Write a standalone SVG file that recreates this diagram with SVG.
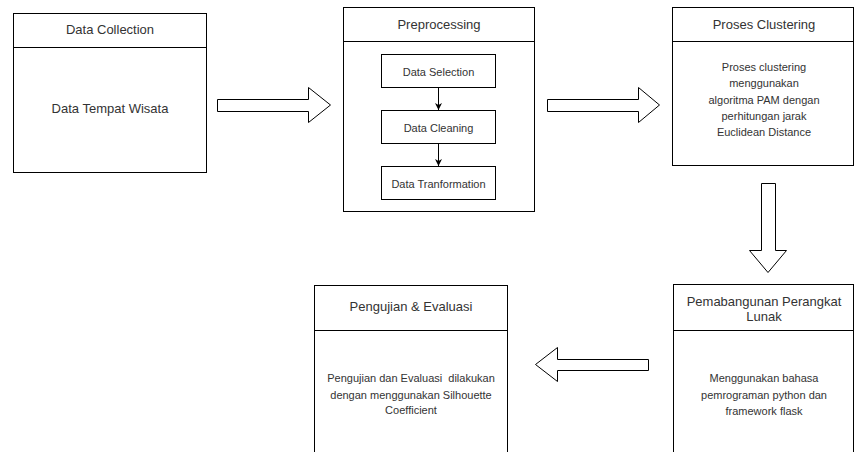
<svg xmlns="http://www.w3.org/2000/svg" width="855" height="452" viewBox="0 0 855 452">
<style>
.box{fill:#fff;stroke:#000;stroke-width:1}
.ln{stroke:#000;stroke-width:1;fill:none}
.big{fill:#fff;stroke:#000;stroke-width:1}
.t{font-family:"Liberation Sans",Arial,sans-serif;font-size:13px;fill:#333;text-anchor:middle}
.s{font-family:"Liberation Sans",Arial,sans-serif;font-size:11px;fill:#333;text-anchor:middle}
</style>
<defs>
<marker id="ah" viewBox="0 0 10 10" refX="10" refY="5" markerWidth="7" markerHeight="7" markerUnits="userSpaceOnUse" orient="auto">
<path d="M0,0 L10,5 L0,10 L3,5 Z" fill="#000"/>
</marker>
</defs>
<rect width="855" height="452" fill="#fff"/>
<g id="data-collection">
<rect class="box" x="13.5" y="13.5" width="193" height="159"/>
<line class="ln" x1="13.5" y1="47.5" x2="206.5" y2="47.5"/>
<text class="t" x="110" y="34">Data Collection</text>
<text class="t" x="110" y="112.5">Data Tempat Wisata</text>
</g>
<g id="preprocessing">
<rect class="box" x="343.5" y="7.5" width="191" height="204"/>
<line class="ln" x1="343.5" y1="41.5" x2="534.5" y2="41.5"/>
<text class="t" x="439" y="28.5">Preprocessing</text>
</g>
<g id="data-selection">
<rect class="box" x="381.5" y="54.5" width="114" height="33"/>
<text class="s" x="438.5" y="75.5">Data Selection</text>
</g>
<g id="data-cleaning">
<rect class="box" x="381.5" y="110.5" width="114" height="33"/>
<text class="s" x="438.5" y="131.5">Data Cleaning</text>
</g>
<g id="data-transformation">
<rect class="box" x="381.5" y="166.5" width="114" height="33"/>
<text class="s" x="438.5" y="187.5">Data Tranformation</text>
</g>
<g id="proses-clustering">
<rect class="box" x="672.5" y="7.5" width="181" height="158"/>
<line class="ln" x1="672.5" y1="41.5" x2="853.5" y2="41.5"/>
<text class="t" x="764" y="28.5">Proses Clustering</text>
<text class="s" x="764" y="70.5">Proses clustering</text>
<text class="s" x="764" y="87">menggunakan</text>
<text class="s" x="764" y="103.5">algoritma PAM dengan</text>
<text class="s" x="764" y="120">perhitungan jarak</text>
<text class="s" x="764" y="136">Euclidean Distance</text>
</g>
<g id="pembangunan">
<rect class="box" x="673.5" y="284.5" width="180" height="200"/>
<line class="ln" x1="673.5" y1="330.5" x2="853.5" y2="330.5"/>
<text class="t" x="764" y="306">Pemabangunan Perangkat</text>
<text class="t" x="764" y="321">Lunak</text>
<text class="s" x="764" y="382">Menggunakan bahasa</text>
<text class="s" x="764" y="398.5">pemrograman python dan</text>
<text class="s" x="764" y="414.5">framework flask</text>
</g>
<g id="pengujian">
<rect class="box" x="314.5" y="285.5" width="193" height="200"/>
<line class="ln" x1="314.5" y1="330.5" x2="507.5" y2="330.5"/>
<text class="t" x="411" y="311">Pengujian &amp; Evaluasi</text>
<text class="s" x="411" y="382" xml:space="preserve">Pengujian dan Evaluasi  dilakukan</text>
<text class="s" x="411" y="398.5">dengan menggunakan Silhouette</text>
<text class="s" x="411" y="414">Coefficient</text>
</g>
<g id="connectors">
<polygon class="big" points="217.5,99.5 308.5,99.5 308.5,87.5 330.5,105 308.5,122.5 308.5,111.5 217.5,111.5"/>
<polygon class="big" points="547.5,99.5 638.5,99.5 638.5,87.5 659.5,105 638.5,122.5 638.5,111.5 547.5,111.5"/>
<polygon class="big" points="761.5,183.5 775.5,183.5 775.5,250.5 786.5,250.5 768,272.5 749.5,250.5 761.5,250.5"/>
<polygon class="big" points="648.5,359.5 557.5,359.5 557.5,347.5 535.5,364.5 557.5,381.5 557.5,370.5 648.5,370.5"/>
<line class="ln" x1="438.5" y1="88" x2="438.5" y2="110" marker-end="url(#ah)"/>
<line class="ln" x1="438.5" y1="144" x2="438.5" y2="166" marker-end="url(#ah)"/>
</g>
</svg>
